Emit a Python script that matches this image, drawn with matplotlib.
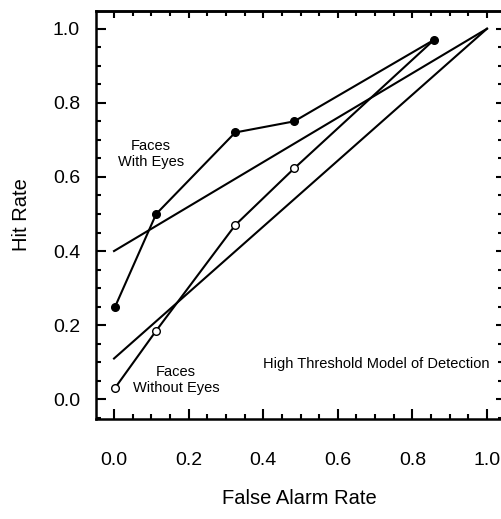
import matplotlib
matplotlib.use("Agg")
import matplotlib.pyplot as plt
from matplotlib.ticker import MultipleLocator

plt.rcParams['font.family'] = ['Liberation Sans', 'DejaVu Sans']

# ROC points
fa_with = [0.003, 0.113, 0.325, 0.483, 0.858]
hit_with = [0.25, 0.50, 0.72, 0.75, 0.97]

fa_without = [0.003, 0.113, 0.325, 0.483, 0.858]
hit_without = [0.031, 0.185, 0.47, 0.623, 0.97]

# high threshold model lines (end points)
ht_x = [0.0, 1.0]
ht_upper = [0.40, 1.0]
ht_lower = [0.11, 1.0]

W, H = 502, 519
fig = plt.figure(figsize=(W / 100, H / 100), dpi=100)
# axes box in pixels: left 96, right 503, top 11, bottom 419
ax = fig.add_axes([96 / W, 1 - 419 / H, (503 - 96) / W, (419 - 11) / H])

lw = 1.5
ax.plot(ht_x, ht_upper, color='black', lw=lw)
ax.plot(ht_x, ht_lower, color='black', lw=lw)
ax.plot(fa_without, hit_without, color='black', lw=lw)
ax.plot(fa_without[:-1], hit_without[:-1], 'o', color='black', mfc='white',
        mew=1.0, ms=5.5, zorder=3)
ax.plot(fa_with, hit_with, color='black', lw=lw, marker='o', ms=5.5,
        mfc='black', zorder=4)

ax.text(0.099, 0.662, "Faces\nWith Eyes", ha='center', va='center', fontsize=10.5)
ax.text(0.166, 0.052, "Faces\nWithout Eyes", ha='center', va='center', fontsize=10.5)
ax.text(0.703, 0.094, "High Threshold Model of Detection", ha='center', va='center',
        fontsize=10.5)

ax.set_xlim(-0.0483, 1.0429)
ax.set_ylim(-0.0532, 1.0478)

for axis in (ax.xaxis, ax.yaxis):
    axis.set_major_locator(MultipleLocator(0.2))
    axis.set_minor_locator(MultipleLocator(0.05))
ax.xaxis.set_major_formatter(plt.FormatStrFormatter('%.1f'))
ax.yaxis.set_major_formatter(plt.FormatStrFormatter('%.1f'))

ax.tick_params(which='both', direction='in', width=1.5, top=False, right=False)
ax.tick_params(which='major', length=7.5)
ax.tick_params(which='minor', length=3.6)
ax.tick_params(axis='x', which='major', pad=24, labelsize=14)
ax.tick_params(axis='y', which='major', pad=11.5, labelsize=14)

# top and right ticks are shorter, no labels
top = ax.secondary_xaxis('top')
top.xaxis.set_major_locator(MultipleLocator(0.2))
top.xaxis.set_minor_locator(MultipleLocator(0.05))
right = ax.secondary_yaxis('right')
right.yaxis.set_major_locator(MultipleLocator(0.2))
right.yaxis.set_minor_locator(MultipleLocator(0.05))
for sec in (top, right):
    sec.tick_params(which='both', direction='in', width=1.5, labeltop=False,
                    labelright=False, labelbottom=False, labelleft=False)
    sec.tick_params(which='major', length=5)
    sec.tick_params(which='minor', length=3.5)
    for sp in sec.spines.values():
        sp.set_linewidth(1.8)

for sp in ax.spines.values():
    sp.set_linewidth(1.8)

ax.set_xlabel("False Alarm Rate", fontsize=14.5, labelpad=14)
ax.set_ylabel("Hit Rate", fontsize=14.5, labelpad=16)

fig.savefig("out.png", dpi=100)
